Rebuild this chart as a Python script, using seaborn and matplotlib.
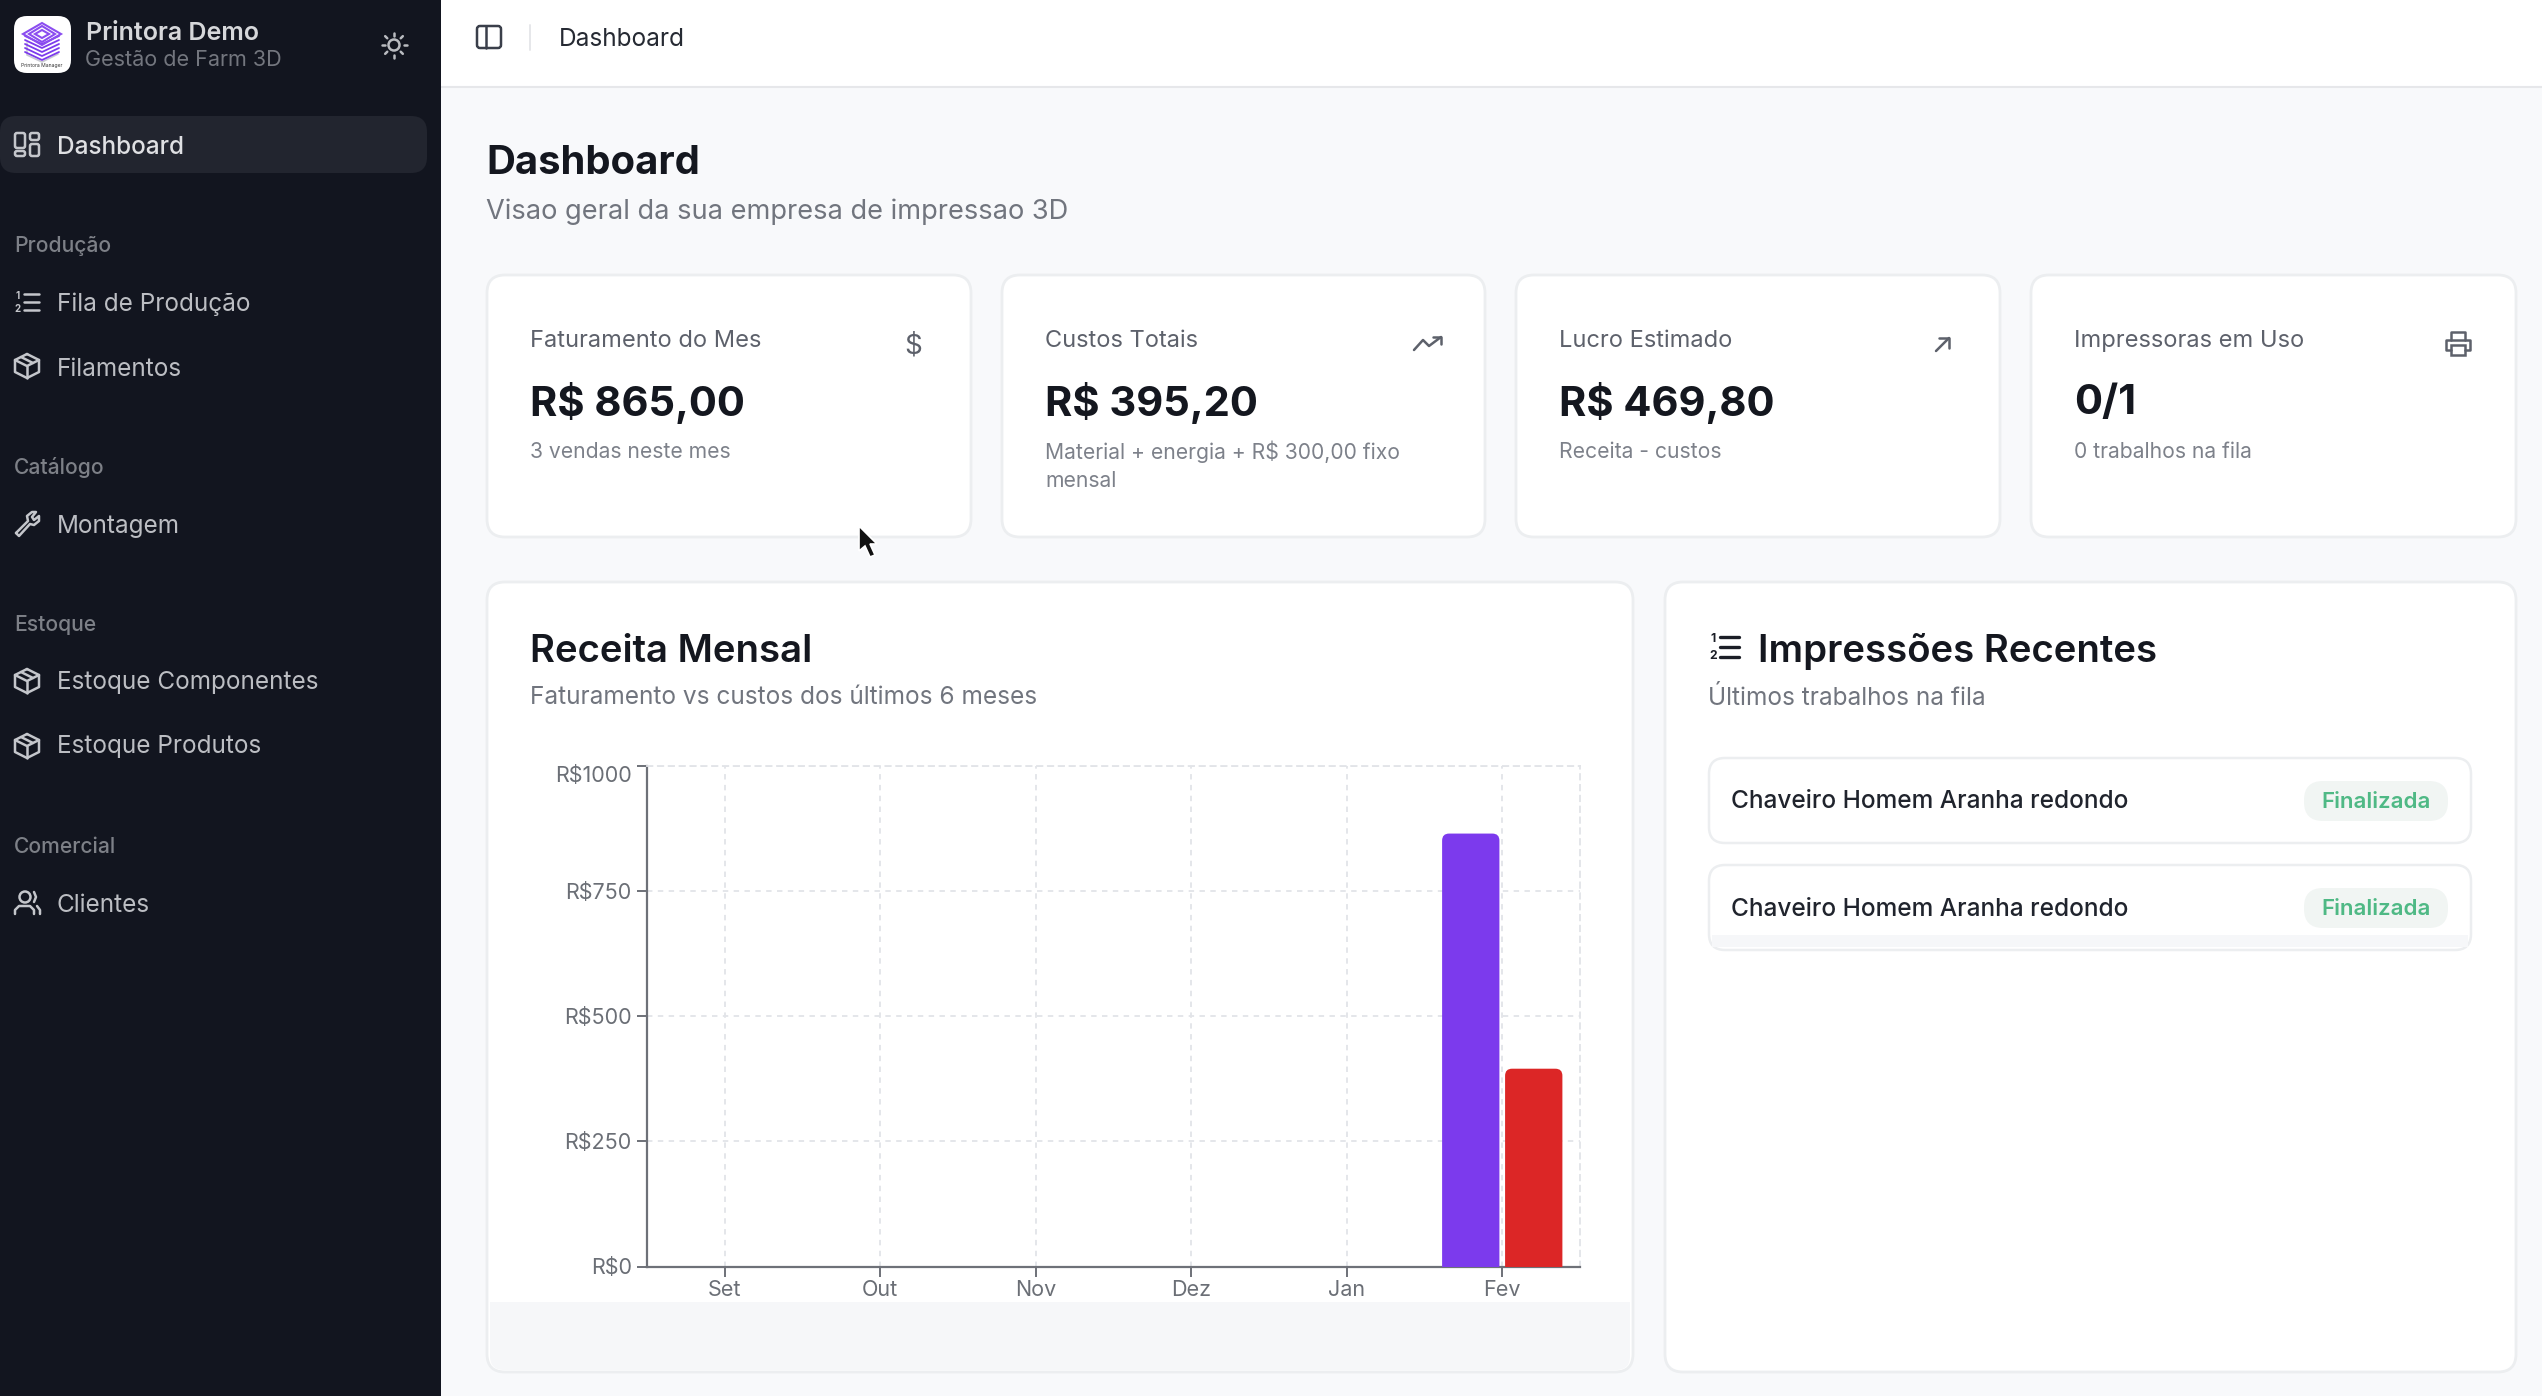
import matplotlib
matplotlib.use('Agg')
import matplotlib.pyplot as plt
import numpy as np
import pandas as pd
import seaborn as sns
from matplotlib.patches import Circle, FancyBboxPatch, Polygon, Rectangle

W, H = 2542, 1396

# chart data
months = ['Set', 'Out', 'Nov', 'Dez', 'Jan', 'Fev']
faturamento = [0, 0, 0, 0, 0, 865.0]
custos = [0, 0, 0, 0, 0, 395.2]
y_ticks = [0, 250, 500, 750, 1000]
y_labels = ['R$0', 'R$250', 'R$500', 'R$750', 'R$1000']

# text of the page
nav_sections = ['Produção', 'Catálogo', 'Estoque', 'Comercial']
nav_items = ['Fila de Produção', 'Filamentos', 'Montagem', 'Estoque Componentes',
             'Estoque Produtos', 'Clientes']
card_labels = ['Faturamento do Mes', 'Custos Totais', 'Lucro Estimado', 'Impressoras em Uso']
card_values = ['R$ 865,00', 'R$ 395,20', 'R$ 469,80', '0/1']
card_notes = ['3 vendas neste mes', 'Material + energia + R$ 300,00 fixo\nmensal',
              'Receita - custos', '0 trabalhos na fila']
recent_jobs = ['Chaveiro Homem Aranha redondo', 'Chaveiro Homem Aranha redondo']

SIDEBAR = '#12151f'
PURPLE = '#7c3aed'
RED = '#dc2626'
DARK = '#14171f'
GRAY = '#71757e'
ICON = '#c4c6cb'
BORDER = '#eceef0'

sns.set_theme(style='white')
plt.rcParams['font.family'] = ['Inter', 'DejaVu Sans']

fig = plt.figure(figsize=(W / 100, H / 100), dpi=100)
bg = fig.add_axes([0, 0, 1, 1])
bg.set_xlim(0, W)
bg.set_ylim(H, 0)
bg.axis('off')


def box(x0, y0, x1, y1, r, fc, ec='none', lw=1.5, z=1):
    bg.add_patch(FancyBboxPatch((x0, y0), x1 - x0, y1 - y0, boxstyle=f'round,pad=0,rounding_size={r}',
                                fc=fc, ec=ec, lw=lw, zorder=z))


def label(x, y, s, size, color, weight='normal', ha='left', z=5):
    # the centre of a text box sits a little above the optical centre
    bg.text(x, y + 2, s, fontsize=size, color=color, fontweight=weight, ha=ha, va='center',
            parse_math=False, zorder=z)


def stroke(pts, color=ICON, lw=1.8, z=5):
    pts = np.array(pts)
    bg.plot(pts[:, 0], pts[:, 1], color=color, lw=lw, solid_capstyle='round',
            solid_joinstyle='round', zorder=z)


def icon_grid(cx, cy):
    for x0, y0, x1, y1 in [(-12, -12, -2, 3), (-12, 6, -2, 11), (3, -12, 12, -5), (3, -1, 12, 11)]:
        box(cx + x0, cy + y0, cx + x1, cy + y1, 2, 'none', ICON, 1.8, 5)


def icon_list(cx, cy, color=ICON, lw=1.8, k=1.0):
    for dy in (-8, 0, 8):
        stroke([(cx - 3 * k, cy + dy * k), (cx + 12 * k, cy + dy * k)], color, lw)
    bg.text(cx - 9 * k, cy - 6 * k, '1', fontsize=7 * k, color=color, ha='center', va='center', fontweight='bold', zorder=5)
    bg.text(cx - 9 * k, cy + 7 * k, '2', fontsize=7 * k, color=color, ha='center', va='center', fontweight='bold', zorder=5)


def icon_package(cx, cy):
    r = 12
    hexa = [(cx, cy - r), (cx + r, cy - r / 2), (cx + r, cy + r / 2), (cx, cy + r),
            (cx - r, cy + r / 2), (cx - r, cy - r / 2), (cx, cy - r)]
    stroke(hexa)
    stroke([(cx - r, cy - r / 2), (cx, cy), (cx + r, cy - r / 2)])
    stroke([(cx, cy), (cx, cy + r)])
    stroke([(cx - 6, cy - r * 0.75), (cx + 6, cy - r * 0.25)])


def icon_wrench(cx, cy):
    stroke([(cx - 11, cy + 9), (cx + 1, cy - 3), (cx, cy - 8), (cx + 5, cy - 12), (cx + 9, cy - 12),
            (cx + 5, cy - 7), (cx + 7, cy - 4), (cx + 12, cy - 8), (cx + 12, cy - 3), (cx + 7, cy + 1),
            (cx + 3, cy), (cx - 8, cy + 12), (cx - 11, cy + 9)])


def icon_users(cx, cy):
    bg.add_patch(Circle((cx - 2, cy - 6), 5.5, fc='none', ec=ICON, lw=1.8, zorder=5))
    stroke([(cx - 12, cy + 11), (cx - 12, cy + 7), (cx - 8, cy + 3), (cx + 3, cy + 3), (cx + 7, cy + 7), (cx + 7, cy + 11)])
    stroke([(cx + 7, cy - 11), (cx + 9, cy - 6), (cx + 7, cy - 1)])
    stroke([(cx + 10, cy + 3), (cx + 13, cy + 7), (cx + 13, cy + 11)])


def icon_sun(cx, cy):
    color = '#b9bbc0'
    bg.add_patch(Circle((cx, cy), 5.5, fc='none', ec=color, lw=1.8, zorder=5))
    for a in np.deg2rad(np.arange(0, 360, 45)):
        stroke([(cx + 9.5 * np.cos(a), cy + 9.5 * np.sin(a)), (cx + 12.5 * np.cos(a), cy + 12.5 * np.sin(a))], color)


def icon_printer(cx, cy, color):
    stroke([(cx - 7, cy - 4), (cx - 7, cy - 12), (cx + 7, cy - 12), (cx + 7, cy - 4)], color)
    stroke([(cx - 7, cy + 6), (cx - 12, cy + 6), (cx - 12, cy - 4), (cx + 12, cy - 4), (cx + 12, cy + 6), (cx + 7, cy + 6)], color)
    bg.add_patch(Rectangle((cx - 7, cy + 1), 14, 10, fc='none', ec=color, lw=1.8, zorder=5))


def draw_logo():
    box(14, 16, 71, 73, 13, 'white')
    cx = 42
    stroke([(27, 43), (27, 55), (42, 62), (58, 54)], '#c9c9d2', 1.2)
    for i in range(5):
        stroke([(cx - 17, 36 + i * 4), (cx, 36 + i * 4 + 8), (cx + 17, 36 + i * 4)], PURPLE, 1.3)
    for w, h, yc in [(19, 11, 34), (13, 8, 34), (7, 4, 34)]:
        bg.add_patch(Polygon([(cx - w, yc), (cx, yc - h), (cx + w, yc), (cx, yc + h)], closed=True, fc='none', ec='#8b4df0', lw=1.5, zorder=5))
    bg.text(42, 66, 'Printora Manager', fontsize=3.6, color='#333333', ha='center', va='center', zorder=5)


# page background and sidebar
bg.add_patch(Rectangle((0, 0), W, H, fc='#f8f9fb', ec='none', zorder=0))
bg.add_patch(Rectangle((441, 0), W - 441, 86, fc='white', ec='none', zorder=0.5))
bg.plot([441, W], [86.5, 86.5], color='#e6e7ea', lw=1.5, zorder=0.6)
bg.add_patch(Rectangle((0, 0), 441, H, fc=SIDEBAR, ec='none', zorder=0.7))

draw_logo()
label(86, 31, 'Printora Demo', 18, '#d6d7da', 'semibold')
label(85, 58, 'Gestão de Farm 3D', 15.5, '#73767e')
icon_sun(394, 45)

box(0, 116, 427, 173, 16, '#22252f')
icon_grid(27, 145)
label(57, 145, 'Dashboard', 17.5, '#dfe0e3', 'medium')

for s, y in zip(nav_sections, [244, 466, 623, 845]):
    label(14, y, s, 15.2, '#7d8087', 'medium')
for s, y in zip(nav_items, [302, 367, 524, 681, 745, 903]):
    label(57, y, s, 17.5, '#bcbec3')
icon_list(27, 302)
icon_package(27, 366)
icon_wrench(27, 524)
icon_package(27, 681)
icon_package(27, 746)
icon_users(27, 903)

# top bar
box(477, 26, 501, 48, 3, 'none', '#3a3f4a', 1.8, 5)
stroke([(486, 26), (486, 48)], '#3a3f4a')
stroke([(530, 25), (530, 50)], '#e6e7ea', 1.4)
label(559, 37, 'Dashboard', 17.6, '#262a33')

# page title
label(486, 162, 'Dashboard', 28.8, DARK, 'bold')
label(486, 210, 'Visao geral da sua empresa de impressao 3D', 19.6, GRAY)

# stat cards
card_x = [(487, 971), (1002, 1485), (1516, 2000), (2031, 2516)]
for (x0, x1), lab, val, note in zip(card_x, card_labels, card_values, card_notes):
    box(x0, 275, x1, 537, 18, 'white', BORDER, 2)
    label(x0 + 43, 339, lab, 17, '#5d616b')
    label(x0 + 43, 401, val, 30, DARK, 'bold')
    for i, line in enumerate(note.split('\n')):
        label(x0 + 43, 450 + i * 29, line, 15.2, '#7d818a')

ic = '#5d616b'
bg.text(913, 347, '$', fontsize=20, color=ic, ha='center', va='center', parse_math=False, zorder=5)
stroke([(1414, 350), (1423, 340), (1429, 346), (1441, 337)], ic)
stroke([(1433, 337), (1441, 337), (1441, 344)], ic)
stroke([(1936, 351), (1949, 338)], ic)
stroke([(1939, 338), (1949, 338), (1949, 348)], ic)
icon_printer(2458, 344, ic)

# mouse cursor
bg.add_patch(Polygon([(859, 526), (859, 551), (865, 546), (870, 557), (875, 555), (870, 544), (877, 544)],
                     closed=True, fc='#111111', ec='white', lw=1.2, zorder=8))

# chart card, the grey band at its foot comes from the source screenshot
box(487, 582, 1633, 1372, 18, 'white', BORDER, 2)
box(490, 1302, 1630, 1370, 14, '#f6f7f9', z=1.2)
bg.add_patch(Rectangle((490, 1302), 1140, 30, fc='#f6f7f9', ec='none', zorder=1.2))
label(530, 650, 'Receita Mensal', 27.6, DARK, 'semibold')
label(530, 696, 'Faturamento vs custos dos últimos 6 meses', 17.6, GRAY)

# recent prints card
box(1665, 582, 2516, 1372, 18, 'white', BORDER, 2)
icon_list(1724, 647, '#1b1e27', 2.4, 1.25)
label(1758, 649, 'Impressões Recentes', 27.6, DARK, 'semibold')
label(1708, 696, 'Últimos trabalhos na fila', 17.6, GRAY)
for job, y0 in zip(recent_jobs, [758, 865]):
    box(1709, y0, 2471, y0 + 85, 16, 'white', BORDER, 1.8)
    label(1731, y0 + 42, job, 17.6, '#20242d', 'medium')
    box(2304, y0 + 23, 2448, y0 + 63, 19, '#f1f5f3', z=2)
    label(2376, y0 + 42, 'Finalizada', 16, '#4fb985', 'semibold', ha='center')
bg.add_patch(Rectangle((1712, 935), 756, 12, fc='#f6f7f9', ec='none', zorder=1.5))

# the chart itself
plot_left, plot_right, plot_top, plot_bottom = 647, 1580, 766, 1266.5
ax = fig.add_axes([plot_left / W, 1 - plot_bottom / H, (plot_right - plot_left) / W, (plot_bottom - plot_top) / H])
ax.set_facecolor('none')

df = pd.DataFrame({
    'mes': months * 2,
    'valor': faturamento + custos,
    'serie': ['Faturamento'] * len(months) + ['Custos'] * len(months),
})
sns.barplot(data=df, x='mes', y='valor', hue='serie', palette=[PURPLE, RED], saturation=1,
            width=0.81, gap=0.09, legend=False, ax=ax, zorder=3)

ax.set_xlim(-0.5, 5.5)
ax.set_ylim(0, 1000)
ax.set_xlabel('')
ax.set_ylabel('')
ax.set_yticks(y_ticks)
ax.set_yticklabels(y_labels, parse_math=False)
ax.get_yticklabels()[-1].set_verticalalignment('top')

# swap seaborn's bars for the same bars with rounded tops, the foot runs under the axis
x_per_px = 6 / (plot_right - plot_left)
y_per_px = 1000 / (plot_bottom - plot_top)
for bar in list(ax.patches):
    bar.set_visible(False)
    if bar.get_height() <= 0:
        continue
    ax.add_patch(FancyBboxPatch((bar.get_x(), -100), bar.get_width(), bar.get_height() + 100,
                                boxstyle=f'round,pad=0,rounding_size={7 * x_per_px}',
                                mutation_aspect=y_per_px / x_per_px,
                                fc=bar.get_facecolor(), ec='none', zorder=3))

ax.grid(True, color='#e2e4e8', linestyle=(0, (3, 3)), linewidth=1.3)
ax.set_axisbelow(True)
sns.despine(ax=ax, top=False, right=False)
for side in ['top', 'right']:
    ax.spines[side].set_color('#e2e4e8')
    ax.spines[side].set_linestyle((0, (3, 3)))
    ax.spines[side].set_linewidth(1.3)
for side in ['left', 'bottom']:
    ax.spines[side].set_color('#6e7178')
    ax.spines[side].set_linewidth(1.6)
ax.tick_params(axis='both', length=7, width=1.4, color='#6e7178', labelcolor='#6b6f76', labelsize=15.5,
               bottom=True, left=True)
ax.tick_params(axis='x', pad=3)
ax.tick_params(axis='y', pad=4)

fig.savefig('out.png', dpi=100)
plt.close(fig)
